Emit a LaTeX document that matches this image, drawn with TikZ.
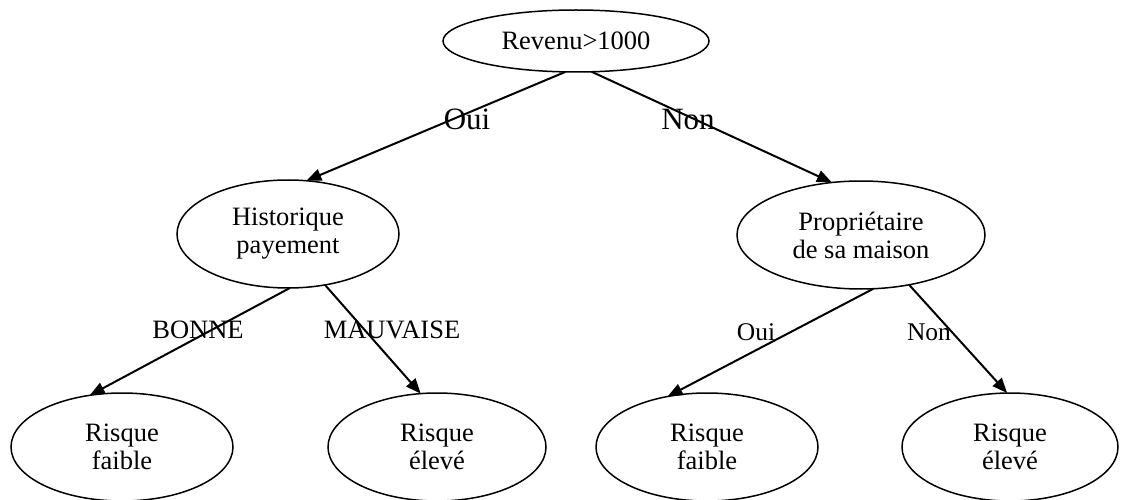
\documentclass[tikz,border=0pt]{standalone}
\usepackage{fontspec}
\setmainfont{Liberation Serif}
\usetikzlibrary{shapes.geometric,arrows.meta}
\begin{document}
\begin{tikzpicture}[x=1pt,y=-1pt,
  nd/.style={ellipse,draw,line width=1.5pt,inner sep=0pt,outer sep=0pt,align=center,
    font=\fontsize{26.5}{28}\selectfont},
  arr/.style={line width=2pt,-{Triangle[length=15pt,width=12pt]}},
  lab/.style={anchor=base,inner sep=0pt,font=\fontsize{26.5}{28}\selectfont},
  biglab/.style={anchor=base,inner sep=0pt,font=\fontsize{31}{33}\selectfont},
  smalllab/.style={anchor=base,inner sep=0pt,font=\fontsize{25.5}{27}\selectfont}]
\useasboundingbox (0,0) rectangle (1130,500);
\node[nd,minimum width=266pt,minimum height=62pt] (root) at (576,41) {Revenu>1000};
\node[nd,minimum width=222pt,minimum height=108pt] (hist) at (288,234) {Historique\\payement};
\node[nd,minimum width=248pt,minimum height=108pt] (prop) at (861,235) {Propriétaire\\de sa maison};
\node[nd,minimum width=222pt,minimum height=108pt] (l1) at (122,447) {Risque\\faible};
\node[nd,minimum width=218pt,minimum height=108pt] (l2) at (437,447) {Risque\\élevé};
\node[nd,minimum width=222pt,minimum height=108pt] (l3) at (707,447) {Risque\\faible};
\node[nd,minimum width=216pt,minimum height=108pt] (l4) at (1010,447) {Risque\\élevé};
\draw[arr] (root.-109.5) -- (hist.71.6);
\draw[arr] (root.-63.4) -- (prop.119.9);
\draw[arr] (hist.-88) -- (l1.122);
\draw[arr] (hist.-54.4) -- (l2.107.5);
\draw[arr] (prop.-77.2) -- (l3.128.3);
\draw[arr] (prop.-46.7) -- (l4.93);
\node[biglab] (oui1) at (467,130) {Oui};
\node[biglab] (non1) at (688,130) {Non};
\node[lab] (bonne) at (198,338) {BONNE};
\node[lab] (mauv) at (392,338) {MAUVAISE};
\node[smalllab] (oui2) at (756,340) {Oui};
\node[smalllab] (non2) at (929,340) {Non};
\end{tikzpicture}
\end{document}
